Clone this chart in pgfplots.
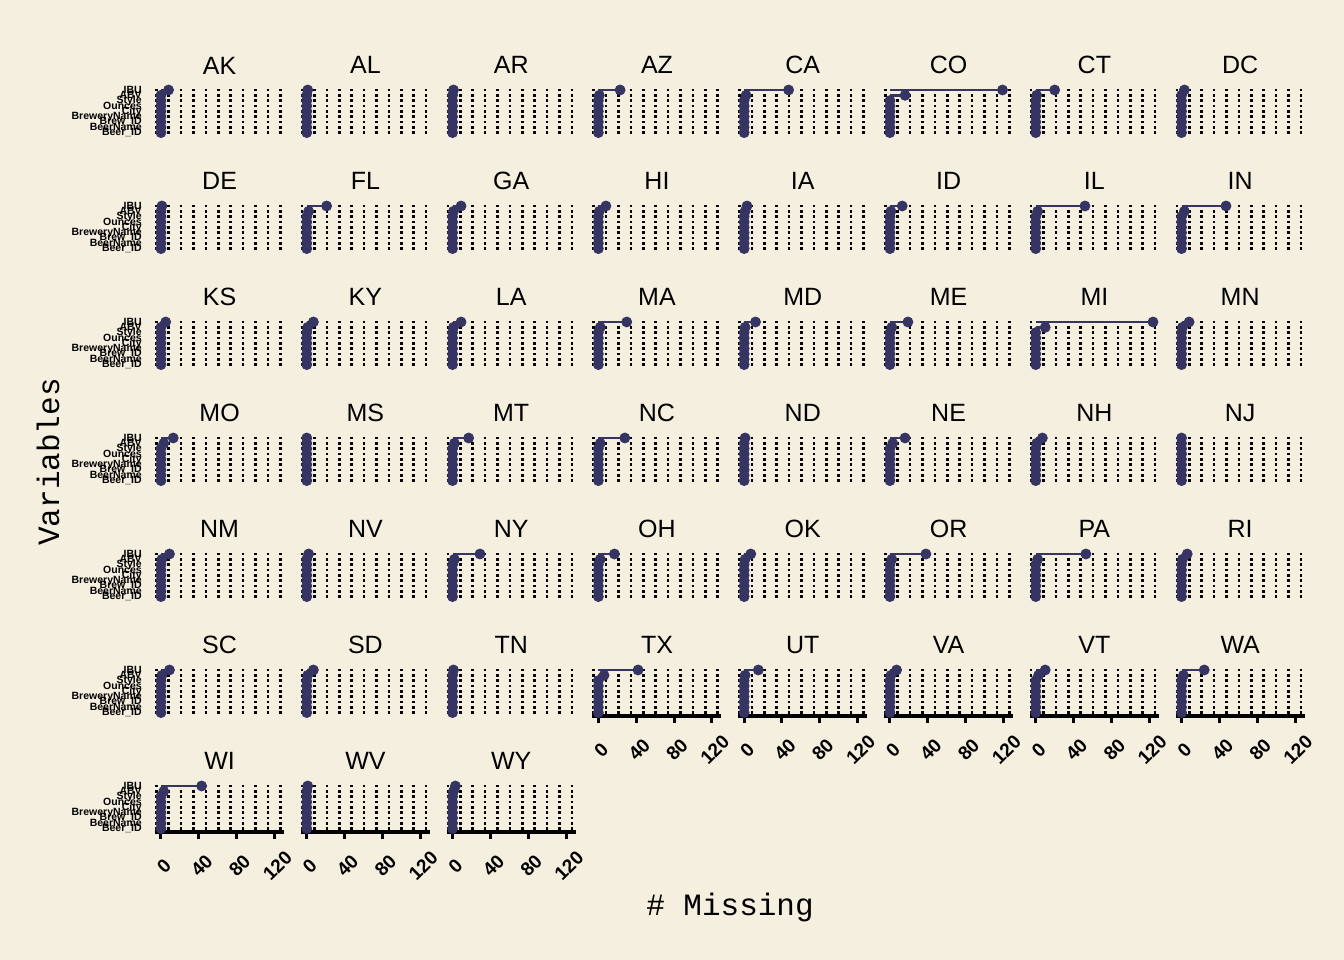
\documentclass[border=0pt]{standalone}
\usepackage{fontspec}
\setmainfont{Liberation Sans}
\newfontfamily\cour{Liberation Mono}
\usepackage{pgfplots}
\pgfplotsset{compat=1.18}
\definecolor{bg}{RGB}{245,239,224}
\definecolor{navy}{RGB}{54,52,98}

\pgfplotsset{
  panel/.style={
    scale only axis, width=64.5bp, height=24.5bp,
    anchor=north west,
    xmin=-6.2, xmax=130.2, ymin=0.4, ymax=9.6,
    clip=false,
    axis x line*=bottom, axis y line*=left,
    y axis line style={draw=none},
    ytick={1,2,3,4,5,6,7,8,9},
    yticklabels={},
    ymajorgrids,
    grid style={black, line width=1.25bp, dash pattern=on 1.25bp off 4.95bp},
    ytick style={draw=none},
    every axis title shift=0pt,
    title style={at={(0.5,1)}, anchor=base, yshift=6.4bp, inner sep=0pt,
      font=\fontsize{12.5bp}{15bp}\selectfont},
    /pgf/number format/assume math mode=true,
  },
  ylabs/.style={
    yticklabels={Beer\_ID,BeerName,Brew\_ID,BreweryName,City,Ounces,Style,ABV,IBU},
    yticklabel style={font=\bfseries\fontsize{5.25bp}{5.5bp}\selectfont, anchor=east, inner sep=0pt, xshift=#1},
  },
  withy/.style={ylabs=-6.5bp},
  withyx/.style={ylabs=-3bp},
  noy/.style={},
  withx/.style={
    xtick={0,40,80,120},
    x axis line style={black, line width=1.75bp, -},
    xtick style={black, line width=1.5bp},
    tick align=outside, major tick length=3.5bp,
    xticklabel style={yshift=-13.5bp, xshift=1.5bp, rotate=45, anchor=center,
      font=\bfseries\fontsize{9.5bp}{11bp}\selectfont},
  },
  nox/.style={xtick=\empty, x axis line style={draw=none}},
}

\newcommand{\panel}[7]{%
\begin{axis}[panel,#6,#7,
  at={({(155.1+145.8*(#2-1))*0.5bp},{-(86.8+116*(#3-1))*0.5bp})},
  title={#1}]
\addplot[navy, line width=1.3bp] coordinates {(0,9) (#4,9)};
\addplot[navy, line width=1.3bp] coordinates {(0,8) (#5,8)};
\addplot[navy, only marks, mark=*, mark size=2.5bp, mark options={draw=navy, fill=navy}]
  coordinates {(0,1) (0,2) (0,3) (0,4) (0,5) (0,6) (0,7) (#5,8) (#4,9)};
\end{axis}}

\begin{document}
\begin{tikzpicture}
\fill[bg] (0,0) rectangle (672bp,-480bp);
% name, col, row, IBU missing, ABV missing, ylabels, xaxis
\panel{AK}{1}{1}{8}{0}{withy}{nox}
\panel{AL}{2}{1}{1}{0}{noy}{nox}
\panel{AR}{3}{1}{1}{0}{noy}{nox}
\panel{AZ}{4}{1}{23}{1}{noy}{nox}
\panel{CA}{5}{1}{47}{2}{noy}{nox}
\panel{CO}{6}{1}{119}{16}{noy}{nox}
\panel{CT}{7}{1}{20}{1}{noy}{nox}
\panel{DC}{8}{1}{3}{0}{noy}{nox}
\panel{DE}{1}{2}{1}{0}{withy}{nox}
\panel{FL}{2}{2}{21}{2}{noy}{nox}
\panel{GA}{3}{2}{9}{1}{noy}{nox}
\panel{HI}{4}{2}{8}{1}{noy}{nox}
\panel{IA}{5}{2}{3}{1}{noy}{nox}
\panel{ID}{6}{2}{13}{1}{noy}{nox}
\panel{IL}{7}{2}{52}{2}{noy}{nox}
\panel{IN}{8}{2}{47}{3}{noy}{nox}
\panel{KS}{1}{3}{5}{0}{withy}{nox}
\panel{KY}{2}{3}{7}{1}{noy}{nox}
\panel{LA}{3}{3}{9}{1}{noy}{nox}
\panel{MA}{4}{3}{30}{2}{noy}{nox}
\panel{MD}{5}{3}{12}{1}{noy}{nox}
\panel{ME}{6}{3}{19}{2}{noy}{nox}
\panel{MI}{7}{3}{124}{10}{noy}{nox}
\panel{MN}{8}{3}{8}{1}{noy}{nox}
\panel{MO}{1}{4}{13}{3}{withy}{nox}
\panel{MS}{2}{4}{0}{0}{noy}{nox}
\panel{MT}{3}{4}{17}{2}{noy}{nox}
\panel{NC}{4}{4}{28}{2}{noy}{nox}
\panel{ND}{5}{4}{1}{0}{noy}{nox}
\panel{NE}{6}{4}{16}{3}{noy}{nox}
\panel{NH}{7}{4}{7}{1}{noy}{nox}
\panel{NJ}{8}{4}{0}{0}{noy}{nox}
\panel{NM}{1}{5}{9}{1}{withy}{nox}
\panel{NV}{2}{5}{2}{0}{noy}{nox}
\panel{NY}{3}{5}{29}{2}{noy}{nox}
\panel{OH}{4}{5}{17}{2}{noy}{nox}
\panel{OK}{5}{5}{7}{1}{noy}{nox}
\panel{OR}{6}{5}{38}{2}{noy}{nox}
\panel{PA}{7}{5}{53}{2}{noy}{nox}
\panel{RI}{8}{5}{6}{1}{noy}{nox}
\panel{SC}{1}{6}{9}{1}{withy}{nox}
\panel{SD}{2}{6}{7}{1}{noy}{nox}
\panel{TN}{3}{6}{1}{0}{noy}{nox}
\panel{TX}{4}{6}{42}{6}{noy}{withx}
\panel{UT}{5}{6}{15}{1}{noy}{withx}
\panel{VA}{6}{6}{7}{1}{noy}{withx}
\panel{VT}{7}{6}{10}{3}{noy}{withx}
\panel{WA}{8}{6}{24}{2}{noy}{withx}
\panel{WI}{1}{7}{43}{3}{withyx}{withx}
\panel{WV}{2}{7}{1}{0}{noy}{withx}
\panel{WY}{3}{7}{3}{1}{noy}{withx}
\node[font=\cour\fontsize{15.5bp}{18bp}\selectfont] at (365bp,-453.5bp) {\# Missing};
\node[font=\cour\fontsize{15.5bp}{18bp}\selectfont, rotate=90] at (24bp,-231bp) {Variables};
\end{tikzpicture}
\end{document}
